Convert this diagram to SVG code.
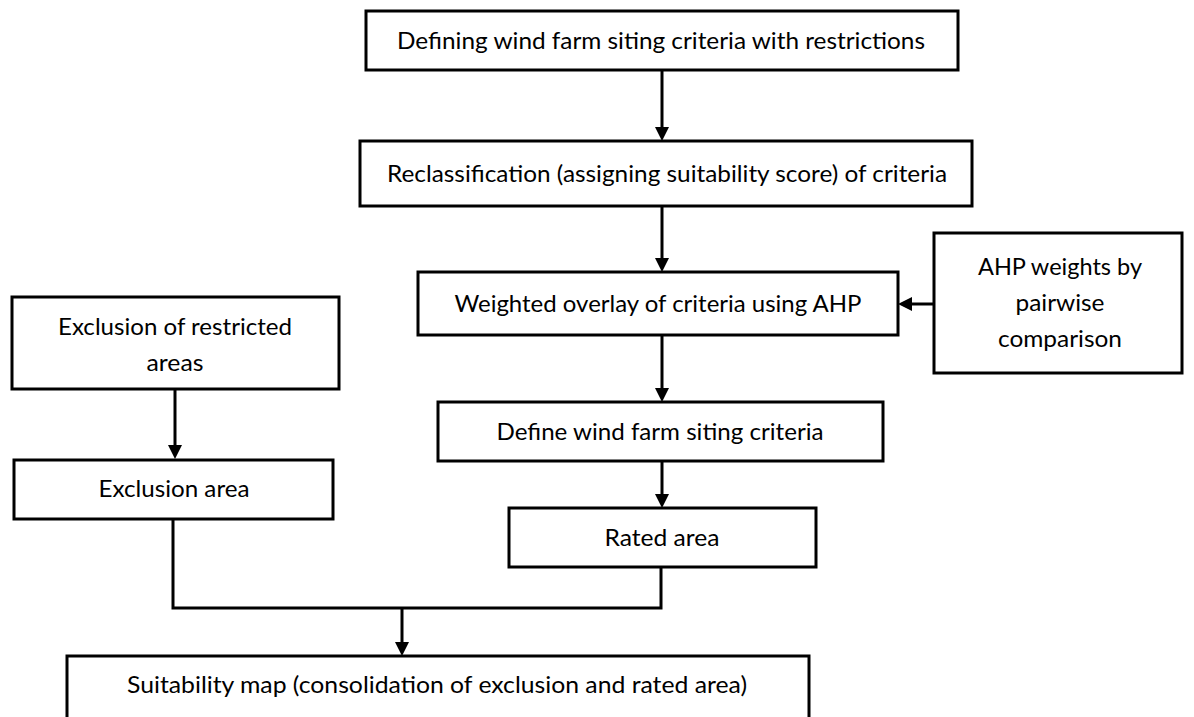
<svg xmlns="http://www.w3.org/2000/svg" width="1194" height="717" viewBox="0 0 1194 717">
<style>
.box{fill:#fff;stroke:#000;stroke-width:3}
.lbl{font-family:Lato,"Liberation Sans",sans-serif;font-size:24px;fill:#000;text-anchor:middle}
.con{fill:none;stroke:#000;stroke-width:3}
</style>
<defs>
<marker id="ah" viewBox="0 0 14 14" refX="10" refY="7" markerWidth="14" markerHeight="14" markerUnits="userSpaceOnUse" orient="auto">
<path d="M0,0 L14,7 L0,14 z" fill="#000"/>
</marker>
</defs>
<rect width="1194" height="717" fill="#fff"/>
<g id="connectors">
<line class="con" x1="662" y1="70" x2="662" y2="137" marker-end="url(#ah)"/>
<line class="con" x1="662" y1="206" x2="662" y2="268" marker-end="url(#ah)"/>
<line class="con" x1="934" y1="304" x2="902" y2="304" marker-end="url(#ah)"/>
<line class="con" x1="662" y1="335" x2="662" y2="398" marker-end="url(#ah)"/>
<line class="con" x1="662" y1="461" x2="662" y2="504" marker-end="url(#ah)"/>
<line class="con" x1="175" y1="389" x2="175" y2="455" marker-end="url(#ah)"/>
<polyline class="con" points="173,519 173,608 661,608 661,567"/>
<line class="con" x1="402" y1="608" x2="402" y2="652" marker-end="url(#ah)"/>
</g>
<g id="n1">
<rect class="box" x="366" y="11" width="592" height="59"/>
<text class="lbl" x="661" y="49" textLength="528" lengthAdjust="spacingAndGlyphs">Defining wind farm siting criteria with restrictions</text>
</g>
<g id="n2">
<rect class="box" x="360" y="141" width="612" height="65"/>
<text class="lbl" x="667" y="182" textLength="560" lengthAdjust="spacingAndGlyphs">Reclassification (assigning suitability score) of criteria</text>
</g>
<g id="n3">
<rect class="box" x="418" y="272" width="480" height="63"/>
<text class="lbl" x="658" y="312" textLength="407" lengthAdjust="spacingAndGlyphs">Weighted overlay of criteria using AHP</text>
</g>
<g id="n4">
<rect class="box" x="934" y="233" width="248" height="140"/>
<text class="lbl" x="1060" y="275" textLength="164" lengthAdjust="spacingAndGlyphs">AHP weights by</text>
<text class="lbl" x="1060" y="311" textLength="89" lengthAdjust="spacingAndGlyphs">pairwise</text>
<text class="lbl" x="1060" y="347" textLength="124" lengthAdjust="spacingAndGlyphs">comparison</text>
</g>
<g id="n5">
<rect class="box" x="12" y="297" width="327" height="92"/>
<text class="lbl" x="175" y="335" textLength="234" lengthAdjust="spacingAndGlyphs">Exclusion of restricted</text>
<text class="lbl" x="175" y="371" textLength="57" lengthAdjust="spacingAndGlyphs">areas</text>
</g>
<g id="n6">
<rect class="box" x="14" y="460" width="319" height="59"/>
<text class="lbl" x="174" y="497" textLength="151" lengthAdjust="spacingAndGlyphs">Exclusion area</text>
</g>
<g id="n7">
<rect class="box" x="438" y="402" width="445" height="59"/>
<text class="lbl" x="660" y="440" textLength="327" lengthAdjust="spacingAndGlyphs">Define wind farm siting criteria</text>
</g>
<g id="n8">
<rect class="box" x="509" y="508" width="307" height="59"/>
<text class="lbl" x="662" y="546" textLength="115" lengthAdjust="spacingAndGlyphs">Rated area</text>
</g>
<g id="n9">
<rect class="box" x="67" y="656" width="742" height="80"/>
<text class="lbl" x="437" y="693" textLength="620" lengthAdjust="spacingAndGlyphs">Suitability map (consolidation of exclusion and rated area)</text>
</g>
</svg>
